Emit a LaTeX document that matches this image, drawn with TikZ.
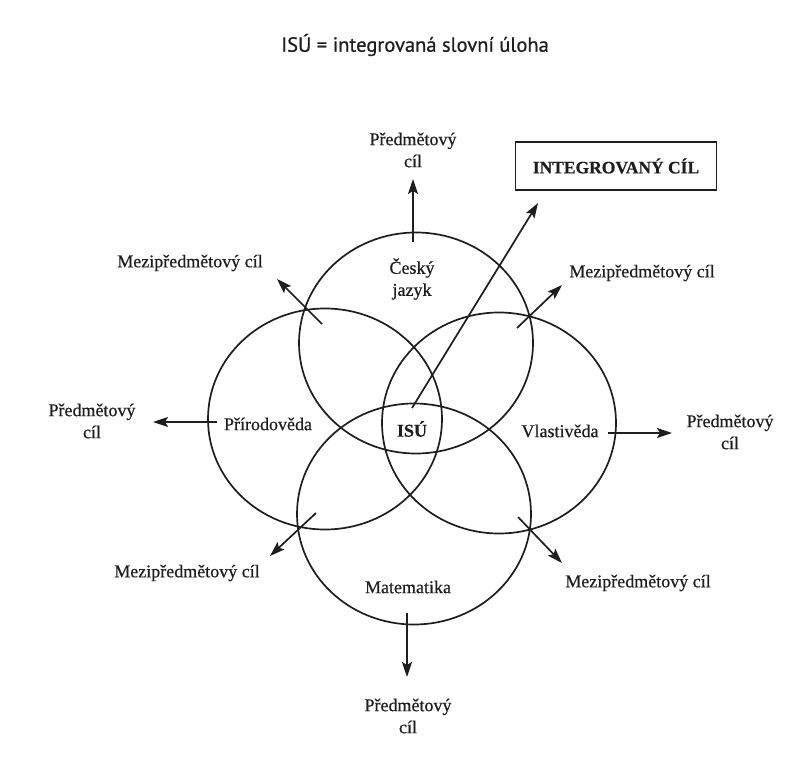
\documentclass[tikz,border=0pt]{standalone}
\usepackage{fontspec}
\setmainfont{Liberation Serif}[FakeBold=0.5]
\newfontfamily\titlefont{PT Sans}[FakeBold=0.6]
\usetikzlibrary{arrows.meta,shapes.geometric}
\definecolor{ink}{HTML}{1E1E1E}
\begin{document}
\begin{tikzpicture}[x=1pt,y=-1pt,
  ring/.style={draw=ink, line width=1.7pt, ellipse, minimum width=234pt, minimum height=221pt, inner sep=0pt},
  lbl/.style={text=ink, font=\fontsize{18}{22}\selectfont, align=center, inner sep=0pt},
  arr/.style={draw=ink, line width=1.7pt, -{Stealth[length=15pt,width=10pt,inset=3pt]}},
  goalbox/.style={draw=ink, line width=1.5pt, minimum width=201pt, minimum height=48pt, inner sep=0pt, text=ink, font=\fontsize{17.5}{20}\selectfont\bfseries}]
\useasboundingbox (0,0) rectangle (803,781);
\fill[white] (0,0) rectangle (803,781);

% title
\node[text=ink, font=\titlefont\fontsize{20.5}{24}\selectfont, inner sep=0pt] (title) at (415,45) {ISÚ = integrovaná slovní úloha};

% circles
\node[ring] (cj) at (416,343) {};
\node[ring] (pr) at (325,419) {};
\node[ring] (vl) at (499,423) {};
\node[ring] (ma) at (414,514) {};

% circle labels
\node[lbl] (tcj) at (412,279) {Český\\jazyk};
\node[lbl] (tpr) at (268,424) {Přírodověda};
\node[lbl, font=\fontsize{18}{22}\selectfont\bfseries] (isu) at (412,429) {ISÚ};
\node[lbl] (tvl) at (560,431) {Vlastivěda};
\node[lbl] (tma) at (408,587) {Matematika};

% goals
\node[goalbox] (ic) at (616,166) {INTEGROVANÝ CÍL};
\node[lbl] (gtop) at (413,150) {Předmětový\\cíl};
\node[lbl] (gleft) at (92,421) {Předmětový\\cíl};
\node[lbl] (gright) at (730,432) {Předmětový\\cíl};
\node[lbl] (gbot) at (408,716) {Předmětový\\cíl};
\node[lbl] (mul) at (190,263) {Mezipředmětový cíl};
\node[lbl] (mur) at (642,273) {Mezipředmětový cíl};
\node[lbl] (mll) at (187,573) {Mezipředmětový cíl};
\node[lbl] (mlr) at (638,583) {Mezipředmětový cíl};

% arrow end points
\coordinate (s1) at (413,242); \coordinate (e1) at (413,179);
\coordinate (s2) at (412,408); \coordinate (e2) at (538,203);
\coordinate (s3) at (517,328); \coordinate (e3) at (562,285);
\coordinate (s4) at (322,324); \coordinate (e4) at (277,279);
\coordinate (s5) at (217,422); \coordinate (e5) at (153,422);
\coordinate (s6) at (608,433); \coordinate (e6) at (672,433);
\coordinate (s7) at (316,513); \coordinate (e7) at (270,556);
\coordinate (s8) at (518,517); \coordinate (e8) at (562,563);
\coordinate (s9) at (407,613); \coordinate (e9) at (407,677);

\draw[arr] (s1) -- (e1);
\draw[arr] (s2) -- (e2);
\draw[arr] (s3) -- (e3);
\draw[arr] (s4) -- (e4);
\draw[arr] (s5) -- (e5);
\draw[arr] (s6) -- (e6);
\draw[arr] (s7) -- (e7);
\draw[arr] (s8) -- (e8);
\draw[arr] (s9) -- (e9);
\end{tikzpicture}
\end{document}
